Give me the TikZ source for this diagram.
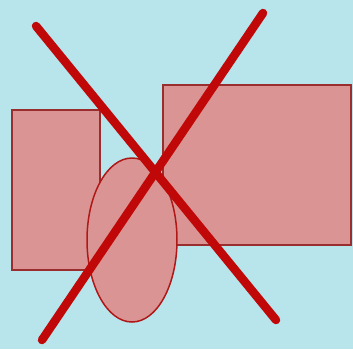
\documentclass[tikz,border=0pt]{standalone}
\usetikzlibrary{shapes.geometric}
\definecolor{bgblue}{HTML}{B8E4EC}
\definecolor{shapefill}{HTML}{DA9493}
\definecolor{shapeborder}{HTML}{9A2E2E}
\definecolor{ellborder}{HTML}{B01818}
\definecolor{crossred}{HTML}{C00808}
\tikzset{
  boxshape/.style={draw=shapeborder, line width=2pt, fill=shapefill, rectangle, inner sep=0pt},
  ellshape/.style={draw=ellborder, line width=1.5pt, fill=shapefill, ellipse, inner sep=0pt},
  crossline/.style={draw=crossred, line width=8.5pt, line cap=round},
}
\begin{document}
\begin{tikzpicture}[x=1pt,y=-1pt]
\useasboundingbox (0,0) rectangle (353,349);
\fill[bgblue] (0,0) rectangle (353,349);
\node[boxshape, minimum width=88pt, minimum height=160pt] (leftbox) at (56,190) {};
\node[boxshape, minimum width=188pt, minimum height=160pt] (rightbox) at (257,165) {};
\node[ellshape, minimum width=90pt, minimum height=164pt] (oval) at (132,240) {};
\coordinate (a1) at (36,26);
\coordinate (a2) at (276,320);
\coordinate (b1) at (263,13);
\coordinate (b2) at (42,340);
\draw[crossline] (a1) -- (a2);
\draw[crossline] (b1) -- (b2);
\end{tikzpicture}
\end{document}
